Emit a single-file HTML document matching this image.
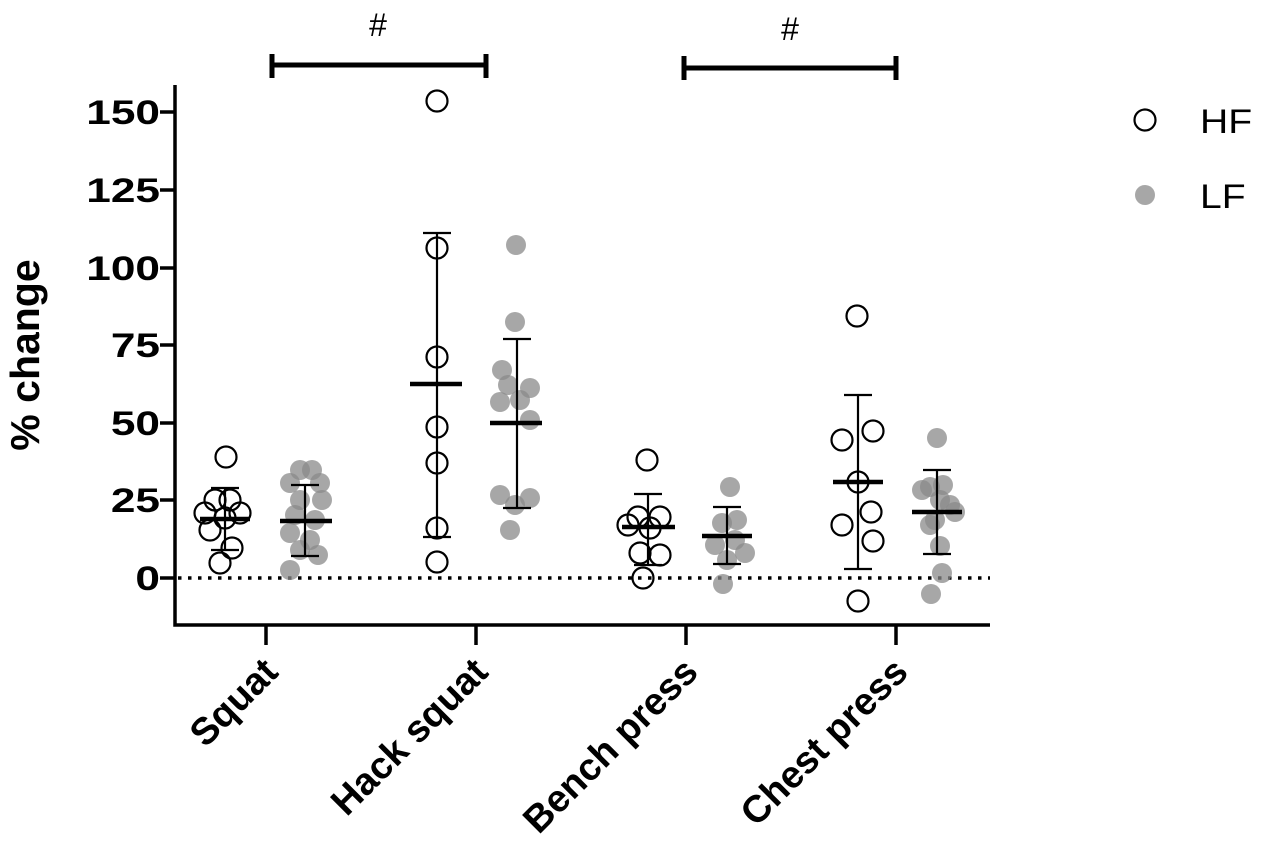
<!DOCTYPE html>
<html><head><style>body{margin:0;background:#fff}svg{display:block}text{font-family:"Liberation Sans",Arial,sans-serif;font-weight:bold;fill:#000}text.n{font-weight:normal}</style></head><body>
<svg width="1266" height="862" viewBox="0 0 1266 862" xmlns="http://www.w3.org/2000/svg">
<g stroke="#000" stroke-width="3.5" fill="none">
<path d="M175,85 V625 H990"/>
<path d="M160,112H175M160,190H175M160,268H175M160,345H175M160,423H175M160,500H175M160,578H175"/>
<path d="M266,625V645M476,625V645M686,625V645M896,625V645"/>
<path d="M272,65H486M272,54V78M486,54V78" stroke-width="5"/>
<path d="M684,68H896M684,56V80M896,56V80" stroke-width="5"/>
</g>
<line x1="178" y1="578" x2="990" y2="578" stroke="#000" stroke-width="3.5" stroke-dasharray="3.5,6.5"/>
<g font-size="34" text-anchor="end">
<text transform="translate(160,124) scale(1.3,1)">150</text>
<text transform="translate(160,202) scale(1.3,1)">125</text>
<text transform="translate(160,280) scale(1.3,1)">100</text>
<text transform="translate(160,357) scale(1.3,1)">75</text>
<text transform="translate(160,435) scale(1.3,1)">50</text>
<text transform="translate(160,512) scale(1.3,1)">25</text>
<text transform="translate(160,590) scale(1.3,1)">0</text>
</g>
<text transform="translate(39,355) rotate(-90)" font-size="41" text-anchor="middle">% change</text>
<text class="n" x="378" y="36" font-size="32" text-anchor="middle">#</text>
<text class="n" x="790" y="40" font-size="32" text-anchor="middle">#</text>
<g font-size="38" text-anchor="end">
<text transform="translate(280,674) rotate(-45)">Squat</text>
<text transform="translate(490,674) rotate(-45)">Hack squat</text>
<text transform="translate(700,674) rotate(-45)">Bench press</text>
<text transform="translate(910,674) rotate(-45)">Chest press</text>
</g>
<g fill="#8a8a8a" fill-opacity="0.75">
<circle cx="300" cy="470" r="10"/><circle cx="312" cy="470" r="10"/><circle cx="290" cy="483" r="10"/><circle cx="320" cy="483" r="10"/><circle cx="300" cy="500" r="10"/><circle cx="322" cy="500" r="10"/><circle cx="295" cy="515" r="10"/><circle cx="315" cy="520" r="10"/><circle cx="290" cy="533" r="10"/><circle cx="310" cy="540" r="10"/><circle cx="300" cy="550" r="10"/><circle cx="318" cy="555" r="10"/><circle cx="290" cy="570" r="10"/>
<circle cx="516" cy="245" r="10"/><circle cx="515" cy="322" r="10"/><circle cx="502" cy="370" r="10"/><circle cx="530" cy="388" r="10"/><circle cx="508" cy="385" r="10"/><circle cx="520" cy="400" r="10"/><circle cx="500" cy="402" r="10"/><circle cx="530" cy="420" r="10"/><circle cx="500" cy="495" r="10"/><circle cx="530" cy="498" r="10"/><circle cx="515" cy="505" r="10"/><circle cx="510" cy="530" r="10"/>
<circle cx="730" cy="487" r="10"/><circle cx="722" cy="523" r="10"/><circle cx="737" cy="520" r="10"/><circle cx="715" cy="545" r="10"/><circle cx="745" cy="553" r="10"/><circle cx="727" cy="560" r="10"/><circle cx="723" cy="584" r="10"/><circle cx="735" cy="540" r="10"/>
<circle cx="937" cy="438" r="10"/><circle cx="930" cy="487" r="10"/><circle cx="943" cy="485" r="10"/><circle cx="922" cy="490" r="10"/><circle cx="950" cy="505" r="10"/><circle cx="940" cy="500" r="10"/><circle cx="935" cy="520" r="10"/><circle cx="955" cy="512" r="10"/><circle cx="930" cy="525" r="10"/><circle cx="940" cy="546" r="10"/><circle cx="942" cy="573" r="10"/><circle cx="931" cy="594" r="10"/>
<circle cx="1145" cy="195" r="10"/>
</g>
<g fill="none" stroke="#000" stroke-width="2.2">
<circle cx="226" cy="457" r="10.5"/><circle cx="215" cy="500" r="10.5"/><circle cx="230" cy="500" r="10.5"/><circle cx="205" cy="513" r="10.5"/><circle cx="240" cy="513" r="10.5"/><circle cx="225" cy="518" r="10.5"/><circle cx="210" cy="530" r="10.5"/><circle cx="232" cy="548" r="10.5"/><circle cx="220" cy="563" r="10.5"/>
<circle cx="437" cy="101" r="10.5"/><circle cx="437" cy="248" r="10.5"/><circle cx="437" cy="357" r="10.5"/><circle cx="437" cy="427" r="10.5"/><circle cx="437" cy="463" r="10.5"/><circle cx="437" cy="528" r="10.5"/><circle cx="437" cy="562" r="10.5"/>
<circle cx="647" cy="460" r="10.5"/><circle cx="638" cy="517" r="10.5"/><circle cx="660" cy="517" r="10.5"/><circle cx="628" cy="525" r="10.5"/><circle cx="650" cy="528" r="10.5"/><circle cx="640" cy="553" r="10.5"/><circle cx="660" cy="555" r="10.5"/><circle cx="643" cy="578" r="10.5"/>
<circle cx="857" cy="316" r="10.5"/><circle cx="842" cy="440" r="10.5"/><circle cx="873" cy="431" r="10.5"/><circle cx="858" cy="482" r="10.5"/><circle cx="842" cy="525" r="10.5"/><circle cx="871" cy="512" r="10.5"/><circle cx="873" cy="541" r="10.5"/><circle cx="858" cy="601" r="10.5"/>
<circle cx="1145" cy="120" r="10.5"/>
</g>
<g stroke="#000" stroke-width="2.2" fill="none">
<path d="M225,488V550M211,488H239M211,550H239"/>
<path d="M305,485V556M291,485H319M291,556H319"/>
<path d="M437,233V537M423,233H451M423,537H451"/>
<path d="M517,339V508M503,339H531M503,508H531"/>
<path d="M648,494V565M634,494H662M634,565H662"/>
<path d="M727,507V564M713,507H741M713,564H741"/>
<path d="M858,395V569M844,395H872M844,569H872"/>
<path d="M937,470V554M923,470H951M923,554H951"/>
</g>
<g stroke="#000" stroke-width="4.5">
<path d="M200,519H250M280,521H332M410,384H462M490,423H542M622,527H675M702,536H752M833,482H883M912,512H962"/>
</g>
<text class="n" transform="translate(1200,133) scale(1.15,1)" font-size="34">HF</text>
<text class="n" transform="translate(1200,208) scale(1.15,1)" font-size="34">LF</text>
</svg>
</body></html>
